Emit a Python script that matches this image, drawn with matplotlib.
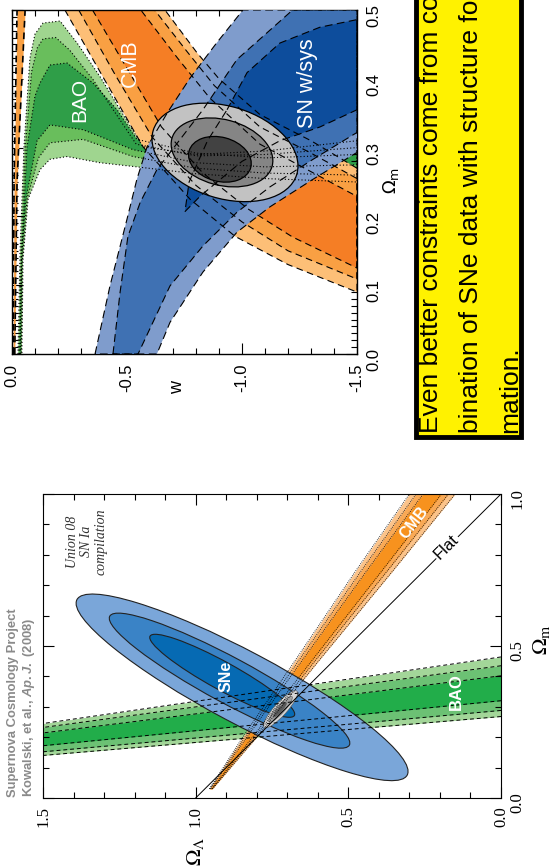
import numpy as np
import matplotlib
matplotlib.use("Agg")
import matplotlib.pyplot as plt
from matplotlib.patches import Ellipse, Polygon, Rectangle
from matplotlib.transforms import Affine2D
from matplotlib.ticker import MultipleLocator, FormatStrFormatter

plt.rcParams['font.family'] = 'Liberation Sans'
plt.rcParams['axes.unicode_minus'] = False
plt.rcParams['mathtext.it'] = 'Liberation Sans:italic:bold'
plt.rcParams['mathtext.rm'] = 'Liberation Sans:bold'

# ---------------- top panel: w vs Omega_m (page is rotated 90 deg) ----------------
# BAO contours (w, Omega_m)
bao_w_3s = [-0.026, -0.035, -0.052, -0.078, -0.100, -0.135, -0.209, -0.283, -0.383, -0.470, -0.570, -0.800, -1.100, -1.500,
            -1.500, -1.100, -0.800, -0.543, -0.383, -0.239, -0.165, -0.122, -0.070, -0.048, -0.043]
bao_om_3s = [0.000, 0.150, 0.300, 0.430, 0.465, 0.481, 0.484, 0.452, 0.403, 0.355, 0.301, 0.290, 0.295, 0.310,
             0.250, 0.255, 0.262, 0.272, 0.278, 0.287, 0.283, 0.268, 0.225, 0.138, 0.000]
bao_w_2s = [-0.030, -0.040, -0.058, -0.085, -0.110, -0.135, -0.190, -0.250, -0.350, -0.440, -0.540, -0.800, -1.100, -1.500,
            -1.500, -1.100, -0.800, -0.526, -0.309, -0.165, -0.115, -0.065, -0.045, -0.040]
bao_om_2s = [0.000, 0.150, 0.300, 0.410, 0.445, 0.458, 0.460, 0.442, 0.400, 0.355, 0.305, 0.288, 0.290, 0.300,
             0.260, 0.263, 0.270, 0.287, 0.312, 0.307, 0.285, 0.225, 0.138, 0.000]
bao_w_1s = [-0.033, -0.043, -0.065, -0.100, -0.122, -0.165, -0.239, -0.352, -0.457, -0.543, -0.800, -1.100, -1.500,
            -1.500, -1.100, -0.800, -0.526, -0.309, -0.165, -0.109, -0.060, -0.041, -0.037]
bao_om_1s = [0.000, 0.150, 0.300, 0.375, 0.394, 0.420, 0.423, 0.394, 0.355, 0.312, 0.292, 0.285, 0.290,
             0.275, 0.272, 0.278, 0.297, 0.326, 0.333, 0.310, 0.225, 0.138, 0.000]

# CMB contours
cmb_w_3s = [-0.230, -0.400, -0.570, -0.774, -0.970, -1.200, -1.500, -1.500, -1.300, -1.078, -0.900, -0.804, -0.665]
cmb_om_3s = [0.500, 0.400, 0.301, 0.225, 0.171, 0.130, 0.090, 0.270, 0.310, 0.348, 0.400, 0.438, 0.500]
cmb_w_2s = [-0.290, -0.450, -0.610, -0.800, -1.000, -1.200, -1.500, -1.500, -1.300, -1.078, -0.880, -0.760, -0.620]
cmb_om_2s = [0.500, 0.405, 0.315, 0.245, 0.192, 0.150, 0.109, 0.255, 0.292, 0.330, 0.390, 0.440, 0.500]
cmb_w_1s = [-0.350, -0.500, -0.650, -0.830, -1.030, -1.220, -1.500, -1.500, -1.300, -1.078, -0.860, -0.720, -0.560]
cmb_om_1s = [0.500, 0.415, 0.330, 0.263, 0.210, 0.170, 0.125, 0.229, 0.265, 0.305, 0.372, 0.430, 0.500]
cmb_strip_om = [0.0, 0.25, 0.5]
cmb_strip_w_in = [-0.005, -0.009, -0.022]
cmb_strip_w_out = [-0.012, -0.022, -0.057]

# SN w/sys contours
sn_w_3s = [-0.361, -0.426, -0.500, -0.543, -0.587, -0.678, -0.774, -0.887, -1.004, -1.500,
           -1.500, -1.309, -1.122, -0.978, -0.830, -0.687, -0.630]
sn_om_3s = [0.000, 0.099, 0.196, 0.254, 0.301, 0.352, 0.401, 0.451, 0.500, 0.500,
            0.293, 0.254, 0.214, 0.177, 0.119, 0.046, 0.000]
sn_w_2s = [-0.439, -0.470, -0.504, -0.557, -0.630, -0.830, -0.978, -1.220, -1.500,
           -1.500, -1.309, -1.122, -0.978, -0.830, -0.687, -0.548]
sn_om_2s = [0.000, 0.090, 0.171, 0.220, 0.268, 0.355, 0.428, 0.500, 0.500,
            0.322, 0.283, 0.243, 0.206, 0.157, 0.099, 0.000]
sn_w_1s = [-0.935, -1.022, -1.165, -1.339, -1.500, -1.500, -1.339, -1.165, -1.000, -0.820, -0.752, -0.770, -0.850]
sn_om_1s = [0.355, 0.409, 0.452, 0.475, 0.486, 0.355, 0.330, 0.310, 0.280, 0.230, 0.207, 0.250, 0.310]

# combined contours: centre and two conjugate half axes
comb_cw = [-0.926, -0.913, -0.904]
comb_com = [0.293, 0.293, 0.283]
comb_aw = [-0.312, -0.218, -0.134]
comb_aom = [-0.032, -0.020, -0.012]
comb_bw = [-0.058, -0.037, -0.025]
comb_bom = [0.064, 0.046, 0.031]

# ---------------- bottom panel: Omega_Lambda vs Omega_m ----------------
sne_ol = [0.848, 0.889, 0.913]
sne_om = [0.364, 0.386, 0.402]
sne_len = [1.226, 0.892, 0.540]
sne_wid = [0.236, 0.150, 0.092]
sne_ang = [28.1, 28.4, 28.9]

bao_ol = [0.0, 1.5]
bao_lo = [[0.268, 0.140], [0.288, 0.152], [0.320, 0.172]]
bao_hi = [[0.464, 0.245], [0.435, 0.232], [0.402, 0.214]]

cmb_om = [0.03, 0.20, 0.45, 0.75, 1.00]
cmb_lo = [[0.945, 0.800, 0.598, 0.352, 0.150],
          [0.946, 0.807, 0.610, 0.370, 0.172],
          [0.948, 0.814, 0.621, 0.388, 0.195]]
cmb_hi = [[0.955, 0.846, 0.676, 0.474, 0.300],
          [0.954, 0.839, 0.664, 0.456, 0.278],
          [0.952, 0.832, 0.653, 0.438, 0.255]]

all_ol = [0.722, 0.722, 0.724]
all_om = [0.292, 0.292, 0.290]
all_len = [0.160, 0.112, 0.062]
all_wid = [0.042, 0.026, 0.013]
all_ang = 132

flat_ol = [1.0, 0.0]
flat_om = [0.0, 1.0]

box_lines = ["Even better constraints come from com-",
             "bination of SNe data with structure for-",
             "mation."]

W, H = 553, 867
fig = plt.figure(figsize=(W / 100, H / 100), dpi=100)


def fx(x):
    return x / W


def fy(y):
    return 1 - y / H


def fillpoly(ax, x, y, fc, z):
    ax.add_patch(Polygon(np.column_stack([x, y]), closed=True, fc=fc, ec='none', zorder=z))


def edgepoly(ax, x, y, ls, z, lw=0.8):
    ax.add_patch(Polygon(np.column_stack([x, y]), closed=True, fill=False, ec='k',
                         lw=lw, ls=ls, zorder=z))


# ===== top panel =====
ax1 = fig.add_axes([fx(12), fy(354), 345 / W, 344 / H])
ax1.set_xlim(0, -1.5)
ax1.set_ylim(0, 0.5)

bao_cols = ['#9fd58f', '#69be5c', '#2f9e48']
cmb_cols = ['#fdbf77', '#f9a043', '#f57e25']
sn_cols = ['#7f9ccc', '#3f71b3', '#0d4d9c']
gray_cols = ['#c2c2c2', '#858585', '#424242']

bao_sets = [(bao_w_3s, bao_om_3s), (bao_w_2s, bao_om_2s), (bao_w_1s, bao_om_1s)]
cmb_sets = [(cmb_w_3s, cmb_om_3s), (cmb_w_2s, cmb_om_2s), (cmb_w_1s, cmb_om_1s)]
sn_sets = [(sn_w_3s, sn_om_3s), (sn_w_2s, sn_om_2s), (sn_w_1s, sn_om_1s)]

for (x, y), c in zip(bao_sets, bao_cols):
    fillpoly(ax1, x, y, c, 1)
for (x, y), c in zip(cmb_sets, cmb_cols):
    fillpoly(ax1, x, y, c, 2)
ax1.fill_betweenx(cmb_strip_om, cmb_strip_w_in, cmb_strip_w_out, color=cmb_cols[1], lw=0, zorder=2)
for (x, y), c in zip(sn_sets, sn_cols):
    fillpoly(ax1, x, y, c, 3)

for i in range(3):
    m = np.array([[comb_aw[i], comb_bw[i], comb_cw[i]],
                  [comb_aom[i], comb_bom[i], comb_com[i]],
                  [0, 0, 1]])
    tr = Affine2D(m) + ax1.transData
    ax1.add_patch(Ellipse((0, 0), 2, 2, transform=tr, fc=gray_cols[i], ec='k', lw=0.9, zorder=4 + i * 0.1))

for x, y in bao_sets:
    edgepoly(ax1, x, y, (0, (1, 2)), 5)
for x, y in cmb_sets:
    edgepoly(ax1, x, y, (0, (6, 4)), 5)
ax1.plot(cmb_strip_w_in, cmb_strip_om, color='k', lw=1.2, ls=(0, (4, 3)), zorder=5)
ax1.plot(cmb_strip_w_out, cmb_strip_om, color='k', lw=1.2, ls=(0, (4, 3)), zorder=5)
for x, y in sn_sets:
    edgepoly(ax1, x, y, (0, (7, 4)), 5)

ax1.text(-0.296, 0.370, "BAO", color='white', fontsize=15, rotation=90, ha='center', va='center', zorder=7)
ax1.text(-0.513, 0.423, "CMB", color='white', fontsize=15.5, rotation=90, ha='center', va='center', zorder=7)
ax1.text(-1.283, 0.394, "SN w/sys", color='white', fontsize=15.5, rotation=90, ha='center', va='center', zorder=7)

ax1.set_xticks([0, -0.5, -1.0, -1.5])
ax1.set_xticklabels(['0.0', '-0.5', '-1.0', '-1.5'])
ax1.xaxis.set_minor_locator(MultipleLocator(0.1))
ax1.yaxis.set_major_locator(MultipleLocator(0.1))
ax1.yaxis.set_minor_locator(MultipleLocator(0.01))
ax1.yaxis.set_major_formatter(FormatStrFormatter('%.1f'))
ax1.tick_params(which='both', direction='in', top=True, bottom=True, left=True, right=True,
                labelleft=False, labelright=True, width=0.8)
ax1.tick_params(which='major', length=8)
ax1.tick_params(which='minor', length=4)
ax1.tick_params(axis='x', labelrotation=90, labelsize=12, pad=7)
ax1.tick_params(axis='y', labelrotation=90, labelsize=12, pad=7)
for s in ax1.spines.values():
    s.set_linewidth(1.0)

fig.text(fx(178), fy(388), "w", fontsize=13, rotation=90, ha='center', va='center')
fig.text(fx(391), fy(180), r"$\Omega_\mathrm{m}$", fontsize=13, rotation=90, ha='center', va='center',
         math_fontfamily='dejavusans')

# ===== bottom panel =====
ax2 = fig.add_axes([fx(43), fy(798), 458 / W, 304 / H])
ax2.set_xlim(1.5, 0)
ax2.set_ylim(0, 1)

sne_cols = ['#7aa6d9', '#3a83c6', '#066ab3']
bao2_cols = ['#a3d699', '#6cc174', '#22ad4a']
cmb2_cols = ['#fbc38a', '#f9a955', '#f7921e']
all_cols = ['#d6d6d6', '#a0a0a0', '#5a5a5a']

for lo, hi, c in zip(bao_lo, bao_hi, bao2_cols):
    ax2.fill_between(bao_ol, lo, hi, color=c, lw=0, zorder=1)
for lo, hi, c in zip(cmb_lo, cmb_hi, cmb2_cols):
    ax2.fill_betweenx(cmb_om, lo, hi, color=c, lw=0, zorder=2)
for i in range(3):
    ax2.add_patch(Ellipse((sne_ol[i], sne_om[i]), sne_len[i], sne_wid[i], angle=sne_ang[i],
                          fc=sne_cols[i], ec='#222222', lw=0.8, zorder=3 + i * 0.1))
for i in range(3):
    ax2.add_patch(Ellipse((all_ol[i], all_om[i]), all_len[i], all_wid[i], angle=all_ang,
                          fc=all_cols[i], ec='#555555', lw=0.4, zorder=4 + i * 0.1))
for lo, hi in zip(bao_lo, bao_hi):
    ax2.plot(bao_ol, lo, color='k', lw=0.7, ls=(0, (4, 3)), zorder=5)
    ax2.plot(bao_ol, hi, color='k', lw=0.7, ls=(0, (4, 3)), zorder=5)
for lo, hi in zip(cmb_lo, cmb_hi):
    ax2.plot(lo, cmb_om, color='k', lw=0.6, ls=(0, (1, 1.5)), zorder=5)
    ax2.plot(hi, cmb_om, color='k', lw=0.6, ls=(0, (1, 1.5)), zorder=5)
ax2.plot(flat_ol, flat_om, color='k', lw=0.7, zorder=5)

ax2.text(0.18, 0.827, "Flat", fontsize=12, rotation=45, ha='center', va='center', zorder=6,
         bbox=dict(fc='white', ec='none', pad=1))
ax2.text(0.899, 0.399, "SNe", color='white', fontsize=11.5, fontweight='bold', rotation=90,
         ha='center', va='center', zorder=7)
ax2.text(0.147, 0.350, "BAO", color='white', fontsize=12, fontweight='bold', rotation=90,
         ha='center', va='center', zorder=7)
ax2.text(0.285, 0.905, "CMB", color='white', fontsize=11.5, fontweight='bold', rotation=52,
         ha='center', va='center', zorder=7)
ax2.text(1.356, 0.843, "Union 08\nSN Ia\ncompilation", fontsize=10, family='Liberation Serif',
         style='italic', rotation=90, ha='center', va='center', multialignment='center',
         linespacing=1.15, color='#333333', zorder=7)

ax2.set_xticks([0, 0.5, 1.0, 1.5])
ax2.set_xticklabels(['0.0', '0.5', '1.0', '1.5'])
ax2.xaxis.set_minor_locator(MultipleLocator(0.1))
ax2.set_yticks([0, 0.5, 1.0])
ax2.set_yticklabels(['0.0', '0.5', '1.0'])
ax2.yaxis.set_minor_locator(MultipleLocator(0.1))
ax2.tick_params(which='both', direction='in', top=True, bottom=True, left=True, right=True,
                labelleft=False, labelright=True, width=0.8, labelfontfamily='Liberation Serif')
ax2.tick_params(which='major', length=8)
ax2.tick_params(which='minor', length=4)
ax2.tick_params(axis='x', labelrotation=90, labelsize=12, pad=6)
ax2.tick_params(axis='y', labelrotation=90, labelsize=12, pad=6)

fig.text(fx(195), fy(851), r"$\Omega_\Lambda$", fontsize=16, rotation=90, ha='center', va='center',
         math_fontfamily='stix')
fig.text(fx(541), fy(640), r"$\Omega_\mathrm{m}$", fontsize=16, rotation=90, ha='center', va='center',
         math_fontfamily='stix')

fig.text(fx(13), fy(797), "Supernova Cosmology Project", fontsize=9.4, fontweight='bold',
         color='#8a8a8a', rotation=90, ha='center', va='bottom')
fig.text(fx(29), fy(797), r"Kowalski, et al., $\mathit{Ap.J.}$ (2008)", fontsize=9.4, fontweight='bold',
         color='#8a8a8a', rotation=90, ha='center', va='bottom', math_fontfamily='custom')

# ===== yellow note box (runs off the top edge, as in the original slide) =====
fig.add_artist(Rectangle((fx(416), fy(437)), (521 - 416) / W, 437 / H + 0.05, transform=fig.transFigure,
                         fc='#fff200', ec='k', lw=3.5, zorder=1))
for xpos, line in zip([431, 471, 510], box_lines):
    fig.text(fx(xpos), fy(433), line, fontsize=19, rotation=90, rotation_mode='anchor',
             ha='left', va='center', zorder=2)

fig.savefig("out.png", dpi=100)
